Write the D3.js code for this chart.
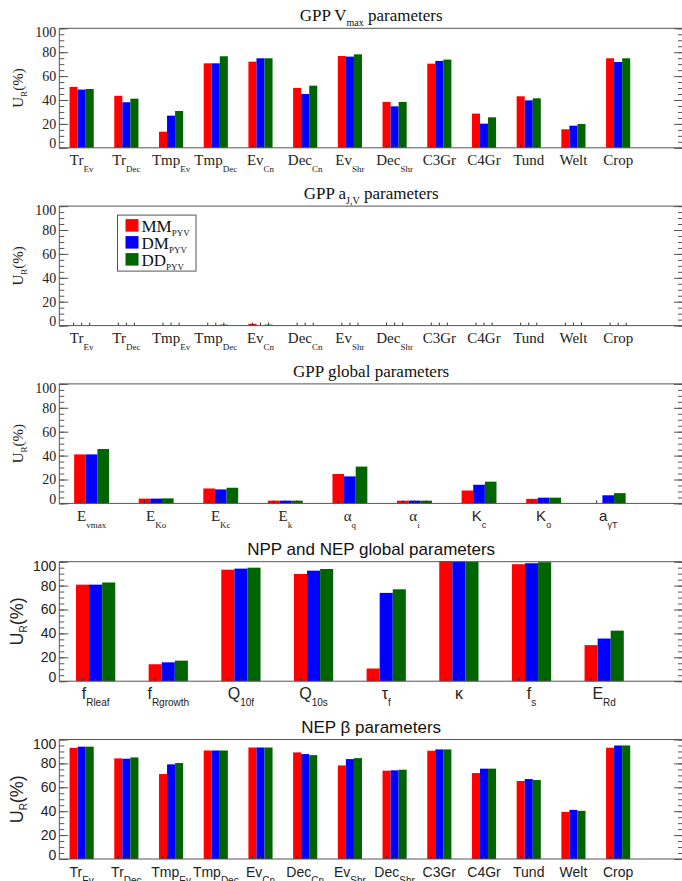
<!DOCTYPE html>
<html lang="en">
<head>
  <meta charset="UTF-8" />
  <title>Uncertainty reduction by parameter group</title>
  <script src="https://d3js.org/d3.v7.min.js"></script>
  <style>
    body { margin: 0; background: #fff; }
    svg { display: block; }
    .serif text { font-family: "Liberation Serif", "Times New Roman", serif; }
    .sans text { font-family: "Liberation Sans", Arial, sans-serif; }
    .frame { fill: none; stroke: #555; stroke-width: 1; }
    .tick line { stroke: #555; }
    .tick text { fill: #222; }
  </style>
</head>
<body>
<svg id="chart" width="682" height="881"></svg>

<script>
// series
const seriesKeys = ["MM", "DM", "DD"];
const seriesSub = "PYV";
const seriesColors = ["#ff0000", "#0000ff", "#006400"];

// PFT categories (panels 1, 2, 5)
const pftMain = ["Tr", "Tr", "Tmp", "Tmp", "Ev", "Dec", "Ev", "Dec", "C3Gr", "C4Gr", "Tund", "Welt", "Crop"];
const pftSub  = ["Ev", "Dec", "Ev", "Dec", "Cn", "Cn", "Shr", "Shr", "", "", "", "", ""];

// GPP Vmax parameters
const vmaxMM = [51.0, 43.5, 13.5, 70.7, 72.1, 50.1, 76.8, 38.4, 70.4, 28.6, 43.1, 15.5, 74.9];
const vmaxDM = [48.7, 38.1, 26.9, 70.7, 74.9, 45.0, 76.3, 34.7, 72.7, 20.2, 39.7, 18.5, 71.8];
const vmaxDD = [49.2, 41.1, 30.8, 76.6, 74.9, 52.0, 78.2, 38.4, 73.8, 25.5, 41.4, 19.9, 74.9];

// GPP aJ,V parameters
const ajvMM = [0, 0, 0, 0, 1.5, 0, 0.5, 0, 0, 0, 0, 0, 0];
const ajvDM = [0, 0, 0, 0.4, 0, 0, 0, 0, 0, 0, 0, 0, 0];
const ajvDD = [0, 0, 0, 0.8, 0.8, 0, 0.5, 0, 0, 0, 0, 0, 0.5];

// GPP global parameters
const globMain = ["E", "E", "E", "E", "α", "α", "K", "K", "a"];
const globSub  = ["vmax", "Ko", "Kc", "k", "q", "i", "c", "o", "γT"];
const globMM = [41.0, 4.0, 12.5, 2.3, 24.6, 2.3, 10.8, 3.8, 0];
const globDM = [41.0, 4.0, 11.7, 2.3, 22.6, 2.3, 15.6, 4.8, 6.8];
const globDD = [45.5, 4.2, 13.1, 2.3, 30.8, 2.3, 18.2, 4.8, 8.6];

// NPP and NEP global parameters
const nppMain = ["f", "f", "Q", "Q", "τ", "κ", "f", "E"];
const nppSub  = ["Rleaf", "Rgrowth", "10f", "10s", "f", "", "s", "Rd"];
const nppMM = [80.8, 14.2, 93.3, 89.7, 10.6, 100.6, 97.9, 30.2];
const nppDM = [80.8, 15.8, 94.2, 92.5, 73.9, 100.3, 98.7, 35.7];
const nppDD = [82.6, 17.2, 95.0, 93.9, 76.9, 100.0, 99.6, 42.3];

// NEP beta parameters
const betaMM = [93.0, 84.2, 71.1, 90.8, 93.3, 89.2, 78.3, 73.9, 90.6, 71.9, 65.3, 39.4, 93.1];
const betaDM = [94.0, 83.9, 79.2, 90.8, 93.3, 87.8, 83.6, 74.2, 91.7, 75.6, 66.9, 41.1, 95.0];
const betaDD = [94.0, 85.0, 80.3, 90.8, 93.3, 86.9, 84.4, 74.7, 91.7, 75.6, 66.1, 40.3, 95.0];

const yTicks = [0, 20, 40, 60, 80, 100];

const svg = d3.select("#chart");
const plotLeft = 59.3, bandRight = 640.5, frameRight = 683;
const firstTop = 28.3, pitch = 177.8, plotH = 119.5;

const panels = [
  { title: ["GPP V", "max", " parameters"], font: "serif", main: pftMain, sub: pftSub,
    series: [vmaxMM, vmaxDM, vmaxDD], labelSize: 15 },
  { title: ["GPP a", "J,V", " parameters"], font: "serif", main: pftMain, sub: pftSub,
    series: [ajvMM, ajvDM, ajvDD], labelSize: 15, legend: true },
  { title: ["GPP global parameters"], font: "serif", main: globMain, sub: globSub,
    series: [globMM, globDM, globDD], labelSize: 15, sansLabels: ["K", "a"] },
  { title: ["NPP and NEP global parameters"], font: "sans", main: nppMain, sub: nppSub,
    series: [nppMM, nppDM, nppDD], labelSize: 16 },
  { title: ["NEP β parameters"], font: "sans", main: pftMain, sub: pftSub,
    series: [betaMM, betaDM, betaDD], labelSize: 14 }
];

function drawPanel(p, i) {
  const top = firstTop + i * pitch, bottom = top + plotH;
  const sans = p.font === "sans";
  const g = svg.append("g").attr("class", p.font);
  const cats = p.main.map((m, k) => m + "_" + p.sub[k] + "_" + k);

  const x = d3.scaleBand().domain(cats).range([plotLeft, bandRight]);
  const y = d3.scaleLinear().domain([0, 100]).range([bottom, top]);
  const groupW = x.bandwidth() * 0.54;
  const inner = d3.scaleBand().domain(seriesKeys).range([0, groupW]);
  const off = (x.bandwidth() - groupW) / 2;

  // bars
  seriesKeys.forEach((key, s) => {
    g.append("g").selectAll("rect")
      .data(p.series[s])
      .join("rect")
      .attr("x", (d, k) => x(cats[k]) + off + inner(key))
      .attr("width", inner.bandwidth())
      .attr("y", d => y(Math.max(d, 0)))
      .attr("height", d => Math.abs(y(d) - y(0)))
      .attr("fill", seriesColors[s]);
  });

  // small x ticks at every bar centre
  const barCentres = [];
  cats.forEach(c => seriesKeys.forEach(key =>
    barCentres.push(x(c) + off + inner(key) + inner.bandwidth() / 2)));
  g.append("g").selectAll("line")
    .data(barCentres)
    .join("line")
    .attr("x1", d => d).attr("x2", d => d)
    .attr("y1", bottom).attr("y2", bottom - 3)
    .attr("stroke", "#333");

  // frame
  g.append("path").attr("class", "frame")
    .attr("d", `M${frameRight},${top}H${plotLeft}V${bottom}H${frameRight}V${top}`);

  // y axis, left (major + minor) and right
  const yl = g.append("g").attr("transform", `translate(${plotLeft},0)`)
    .call(d3.axisLeft(y).tickValues(yTicks).tickSize(-9).tickPadding(3));
  yl.select(".domain").remove();
  yl.selectAll("text")
    .style("font-size", "14px")
    .attr("dy", d => d === 0 ? "0em" : d === 100 ? "0.62em" : "0.32em");

  g.append("g").attr("transform", `translate(${plotLeft},0)`)
    .call(d3.axisLeft(y).ticks(25).tickSize(-5).tickFormat(""))
    .select(".domain").remove();
  g.append("g").attr("transform", `translate(${frameRight},0)`)
    .call(d3.axisRight(y).tickValues(yTicks).tickSize(-9).tickFormat(""))
    .select(".domain").remove();
  g.append("g").attr("transform", `translate(${frameRight},0)`)
    .call(d3.axisRight(y).ticks(25).tickSize(-5).tickFormat(""))
    .select(".domain").remove();

  // x category labels
  const subSize = sans ? 10 : 9;
  const lab = g.append("g").selectAll("text")
    .data(cats)
    .join("text")
    .attr("x", d => x(d) + x.bandwidth() / 2)
    .attr("y", bottom + 17.5)
    .attr("text-anchor", "middle")
    .attr("fill", "#222")
    .style("font-family", (d, k) => p.sansLabels && p.sansLabels.includes(p.main[k])
      ? '"Liberation Sans", Arial, sans-serif' : null);
  lab.append("tspan").style("font-size", p.labelSize + "px").text((d, k) => p.main[k]);
  lab.append("tspan").style("font-size", subSize + "px").attr("dy", 7)
    .text((d, k) => p.sub[k]);

  // title
  const cx = (plotLeft + frameRight) / 2;
  const t = g.append("text")
    .attr("x", cx).attr("y", top - 7)
    .attr("text-anchor", "middle")
    .style("font-size", "17px")
    .attr("fill", "#111");
  if (p.title.length === 3) {
    t.append("tspan").text(p.title[0]);
    t.append("tspan").style("font-size", "10px").attr("dy", 5).text(p.title[1]);
    t.append("tspan").attr("dy", -5).text(p.title[2]);
  } else {
    t.text(p.title[0]);
  }

  // y label
  const yt = g.append("text")
    .attr("transform", `translate(${sans ? 23 : 23},${(top + bottom) / 2}) rotate(-90)`)
    .attr("text-anchor", "middle")
    .attr("fill", "#222")
    .style("font-size", sans ? "18px" : "15px");
  yt.append("tspan").text("U");
  yt.append("tspan").style("font-size", sans ? "10px" : "9px").attr("dy", 4).text("R");
  yt.append("tspan").attr("dy", -4).text("(%)");

  if (p.legend) drawLegend(g, top);
}

function drawLegend(g, top) {
  const lx = 117.5, ly = top + 9;
  g.append("rect")
    .attr("x", lx).attr("y", ly)
    .attr("width", 78.5).attr("height", 56)
    .attr("fill", "#fff").attr("stroke", "#555");
  const row = d3.scaleBand().domain(seriesKeys).range([ly + 4, ly + 55]);
  const item = g.append("g").selectAll("g")
    .data(seriesKeys)
    .join("g")
    .attr("transform", d => `translate(${lx + 8},${row(d)})`);
  item.append("rect")
    .attr("width", 13).attr("height", 12.5)
    .attr("fill", (d, s) => seriesColors[s]);
  const tx = item.append("text")
    .attr("x", 16).attr("y", 12.5)
    .attr("fill", "#111")
    .style("font-size", "17px");
  tx.append("tspan").text(d => d);
  tx.append("tspan").style("font-size", "9px").attr("dy", 4).text(seriesSub);
}

panels.forEach(drawPanel);
</script>
</body>
</html>
